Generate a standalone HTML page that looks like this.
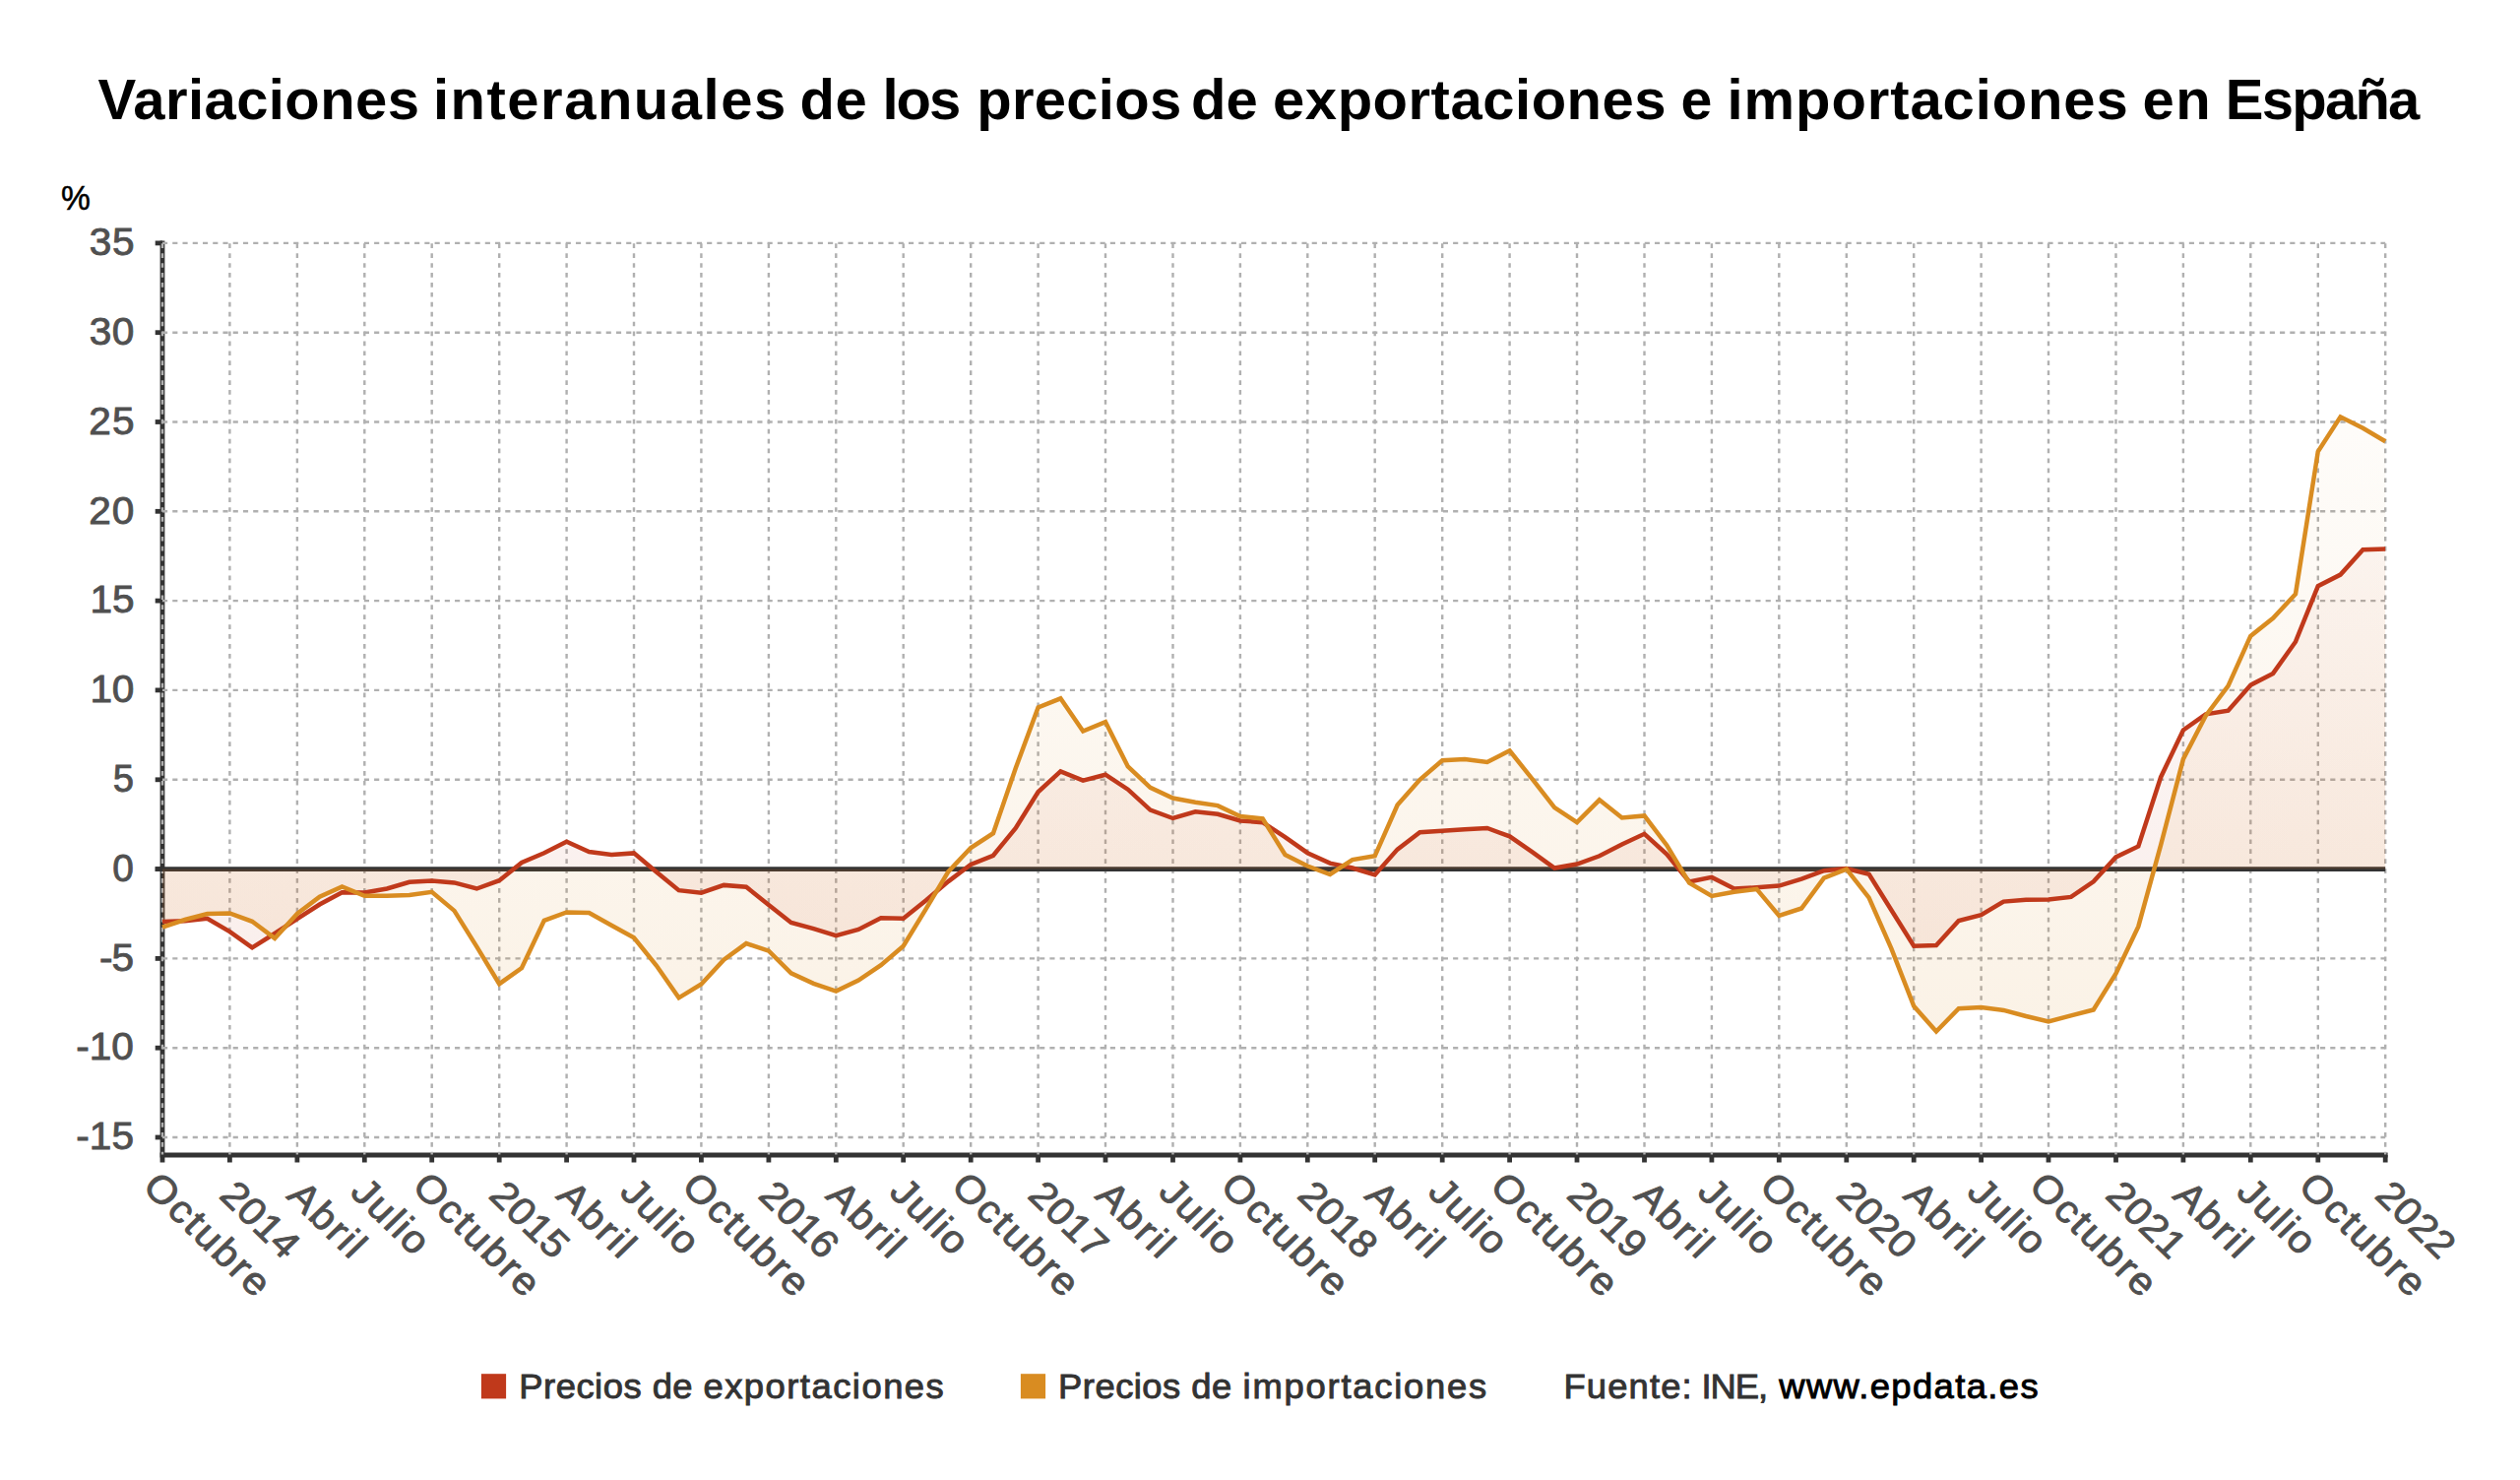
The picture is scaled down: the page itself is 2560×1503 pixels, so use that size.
<!DOCTYPE html>
<html lang="es"><head><meta charset="utf-8"><title>Variaciones interanuales de los precios de exportaciones e importaciones en España</title>
<style>html,body{margin:0;padding:0;background:#fff}body{width:2560px;height:1503px;overflow:hidden}svg{display:block}text{font-family:"Liberation Sans",sans-serif}</style>
</head><body>
<svg width="2560" height="1503" viewBox="0 0 2560 1503">
<defs>
<linearGradient id="gr" gradientUnits="userSpaceOnUse" x1="0" y1="246.9" x2="0" y2="1173.0"><stop offset="0" stop-color="#c0391b" stop-opacity="0.0"/><stop offset="1" stop-color="#c0391b" stop-opacity="0.105"/></linearGradient>
<linearGradient id="go" gradientUnits="userSpaceOnUse" x1="0" y1="246.9" x2="0" y2="1173.0"><stop offset="0" stop-color="#d98c21" stop-opacity="0.0"/><stop offset="1" stop-color="#d98c21" stop-opacity="0.13"/></linearGradient>
</defs>
<rect width="2560" height="1503" fill="#fff"/>
<g stroke="#333" stroke-width="4.8" fill="none">
<path d="M165.0,244.5 V1180.5"/>
<path d="M162.6,1173.0 H2425.6"/>
<path d="M157.7,246.9 H165.0"/>
<path d="M157.7,337.7 H165.0"/>
<path d="M157.7,428.5 H165.0"/>
<path d="M157.7,519.3 H165.0"/>
<path d="M157.7,610.1 H165.0"/>
<path d="M157.7,700.9 H165.0"/>
<path d="M157.7,791.8 H165.0"/>
<path d="M157.7,882.6 H165.0"/>
<path d="M157.7,973.4 H165.0"/>
<path d="M157.7,1064.2 H165.0"/>
<path d="M157.7,1155.0 H165.0"/>
<path d="M233.4,1173.0 V1180.5"/>
<path d="M301.9,1173.0 V1180.5"/>
<path d="M370.3,1173.0 V1180.5"/>
<path d="M438.7,1173.0 V1180.5"/>
<path d="M507.2,1173.0 V1180.5"/>
<path d="M575.6,1173.0 V1180.5"/>
<path d="M644.0,1173.0 V1180.5"/>
<path d="M712.4,1173.0 V1180.5"/>
<path d="M780.9,1173.0 V1180.5"/>
<path d="M849.3,1173.0 V1180.5"/>
<path d="M917.7,1173.0 V1180.5"/>
<path d="M986.2,1173.0 V1180.5"/>
<path d="M1054.6,1173.0 V1180.5"/>
<path d="M1123.0,1173.0 V1180.5"/>
<path d="M1191.5,1173.0 V1180.5"/>
<path d="M1259.9,1173.0 V1180.5"/>
<path d="M1328.3,1173.0 V1180.5"/>
<path d="M1396.7,1173.0 V1180.5"/>
<path d="M1465.2,1173.0 V1180.5"/>
<path d="M1533.6,1173.0 V1180.5"/>
<path d="M1602.0,1173.0 V1180.5"/>
<path d="M1670.5,1173.0 V1180.5"/>
<path d="M1738.9,1173.0 V1180.5"/>
<path d="M1807.3,1173.0 V1180.5"/>
<path d="M1875.8,1173.0 V1180.5"/>
<path d="M1944.2,1173.0 V1180.5"/>
<path d="M2012.6,1173.0 V1180.5"/>
<path d="M2081.0,1173.0 V1180.5"/>
<path d="M2149.5,1173.0 V1180.5"/>
<path d="M2217.9,1173.0 V1180.5"/>
<path d="M2286.3,1173.0 V1180.5"/>
<path d="M2354.8,1173.0 V1180.5"/>
<path d="M2423.2,1173.0 V1180.5"/>
</g>
<g stroke="#b0b0b0" stroke-width="2.4" fill="none">
<g stroke-dasharray="5.15 5.093">
<path d="M165.0,246.9 H2423.2"/>
<path d="M165.0,337.7 H2423.2"/>
<path d="M165.0,428.5 H2423.2"/>
<path d="M165.0,519.3 H2423.2"/>
<path d="M165.0,610.1 H2423.2"/>
<path d="M165.0,700.9 H2423.2"/>
<path d="M165.0,791.8 H2423.2"/>
<path d="M165.0,973.4 H2423.2"/>
<path d="M165.0,1064.2 H2423.2"/>
<path d="M165.0,1155.0 H2423.2"/>
</g><g stroke-dasharray="4.7 5.22">
<path d="M165.0,247.3 V1172.5"/>
<path d="M233.4,247.3 V1172.5"/>
<path d="M301.9,247.3 V1172.5"/>
<path d="M370.3,247.3 V1172.5"/>
<path d="M438.7,247.3 V1172.5"/>
<path d="M507.2,247.3 V1172.5"/>
<path d="M575.6,247.3 V1172.5"/>
<path d="M644.0,247.3 V1172.5"/>
<path d="M712.4,247.3 V1172.5"/>
<path d="M780.9,247.3 V1172.5"/>
<path d="M849.3,247.3 V1172.5"/>
<path d="M917.7,247.3 V1172.5"/>
<path d="M986.2,247.3 V1172.5"/>
<path d="M1054.6,247.3 V1172.5"/>
<path d="M1123.0,247.3 V1172.5"/>
<path d="M1191.5,247.3 V1172.5"/>
<path d="M1259.9,247.3 V1172.5"/>
<path d="M1328.3,247.3 V1172.5"/>
<path d="M1396.7,247.3 V1172.5"/>
<path d="M1465.2,247.3 V1172.5"/>
<path d="M1533.6,247.3 V1172.5"/>
<path d="M1602.0,247.3 V1172.5"/>
<path d="M1670.5,247.3 V1172.5"/>
<path d="M1738.9,247.3 V1172.5"/>
<path d="M1807.3,247.3 V1172.5"/>
<path d="M1875.8,247.3 V1172.5"/>
<path d="M1944.2,247.3 V1172.5"/>
<path d="M2012.6,247.3 V1172.5"/>
<path d="M2081.0,247.3 V1172.5"/>
<path d="M2149.5,247.3 V1172.5"/>
<path d="M2217.9,247.3 V1172.5"/>
<path d="M2286.3,247.3 V1172.5"/>
<path d="M2354.8,247.3 V1172.5"/>
<path d="M2423.2,247.3 V1172.5"/>
</g></g>
<path d="M157.7,882.6 H2423.2" stroke="#333" stroke-width="4.9" fill="none"/>
<path d="M165.0,882.6 L165.0,936.1 L187.8,935.2 L210.6,932.7 L233.4,946.1 L256.2,962.3 L279.1,948.0 L301.9,933.2 L324.7,918.5 L347.5,906.2 L370.3,906.5 L393.1,902.5 L415.9,895.8 L438.7,894.6 L461.5,896.4 L484.3,902.5 L507.2,894.2 L530.0,875.9 L552.8,866.2 L575.6,854.8 L598.4,865.1 L621.2,868.0 L644.0,866.4 L666.8,885.5 L689.6,904.2 L712.4,906.7 L735.3,898.9 L758.1,900.7 L780.9,918.9 L803.7,936.9 L826.5,943.2 L849.3,950.1 L872.1,944.0 L894.9,932.3 L917.7,932.7 L940.5,914.5 L963.4,895.1 L986.2,878.0 L1009.0,868.8 L1031.8,841.0 L1054.6,804.3 L1077.4,783.4 L1100.2,792.7 L1123.0,786.7 L1145.8,801.7 L1168.6,822.6 L1191.5,831.0 L1214.3,824.3 L1237.1,826.8 L1259.9,833.4 L1282.7,835.2 L1305.5,850.1 L1328.3,866.2 L1351.1,876.6 L1373.9,881.5 L1396.7,888.4 L1419.6,862.6 L1442.4,845.2 L1465.2,843.7 L1488.0,842.3 L1510.8,841.0 L1533.6,849.3 L1556.4,865.1 L1579.2,881.5 L1602.0,877.5 L1624.8,869.3 L1647.7,857.5 L1670.5,846.8 L1693.3,867.5 L1716.1,895.5 L1738.9,890.9 L1761.7,902.5 L1784.5,901.3 L1807.3,899.6 L1830.1,892.6 L1852.9,884.2 L1875.8,882.0 L1898.6,887.7 L1921.4,924.2 L1944.2,960.8 L1967.0,960.1 L1989.8,935.1 L2012.6,929.2 L2035.4,915.6 L2058.2,913.8 L2081.0,913.4 L2103.9,910.9 L2126.7,895.3 L2149.5,870.4 L2172.3,859.5 L2195.1,789.2 L2217.9,741.5 L2240.7,725.3 L2263.5,721.7 L2286.3,695.7 L2309.1,683.9 L2332.0,651.7 L2354.8,595.2 L2377.6,583.6 L2400.4,558.2 L2423.2,557.5 L2423.2,882.6 Z" fill="url(#gr)"/>
<path d="M165.0,882.6 L165.0,941.6 L187.8,934.0 L210.6,928.0 L233.4,927.4 L256.2,935.8 L279.1,952.9 L301.9,928.0 L324.7,910.7 L347.5,900.4 L370.3,909.8 L393.1,909.8 L415.9,909.1 L438.7,905.8 L461.5,924.9 L484.3,961.4 L507.2,999.2 L530.0,983.0 L552.8,934.9 L575.6,926.5 L598.4,927.1 L621.2,939.8 L644.0,952.3 L666.8,980.5 L689.6,1013.3 L712.4,999.5 L735.3,974.7 L758.1,958.1 L780.9,965.6 L803.7,988.3 L826.5,998.8 L849.3,1006.6 L872.1,995.5 L894.9,980.1 L917.7,960.7 L940.5,923.3 L963.4,885.1 L986.2,861.0 L1009.0,846.2 L1031.8,780.1 L1054.6,718.4 L1077.4,709.3 L1100.2,742.5 L1123.0,733.1 L1145.8,778.5 L1168.6,799.8 L1191.5,810.5 L1214.3,814.8 L1237.1,818.1 L1259.9,829.0 L1282.7,831.4 L1305.5,868.0 L1328.3,879.5 L1351.1,888.0 L1373.9,873.1 L1396.7,869.3 L1419.6,817.6 L1442.4,791.8 L1465.2,772.3 L1488.0,770.9 L1510.8,774.0 L1533.6,762.3 L1556.4,790.9 L1579.2,820.1 L1602.0,835.2 L1624.8,812.3 L1647.7,830.4 L1670.5,828.4 L1693.3,858.4 L1716.1,896.7 L1738.9,910.0 L1761.7,905.8 L1784.5,902.9 L1807.3,930.0 L1830.1,922.5 L1852.9,891.7 L1875.8,882.6 L1898.6,911.6 L1921.4,963.4 L1944.2,1021.7 L1967.0,1047.5 L1989.8,1024.2 L2012.6,1023.0 L2035.4,1025.9 L2058.2,1032.0 L2081.0,1037.5 L2103.9,1031.3 L2126.7,1025.5 L2149.5,988.6 L2172.3,940.9 L2195.1,858.1 L2217.9,770.9 L2240.7,726.9 L2263.5,696.6 L2286.3,645.9 L2309.1,627.8 L2332.0,603.2 L2354.8,458.5 L2377.6,423.3 L2400.4,434.7 L2423.2,448.3 L2423.2,882.6 Z" fill="url(#go)"/>
<polyline points="165.0,936.1 187.8,935.2 210.6,932.7 233.4,946.1 256.2,962.3 279.1,948.0 301.9,933.2 324.7,918.5 347.5,906.2 370.3,906.5 393.1,902.5 415.9,895.8 438.7,894.6 461.5,896.4 484.3,902.5 507.2,894.2 530.0,875.9 552.8,866.2 575.6,854.8 598.4,865.1 621.2,868.0 644.0,866.4 666.8,885.5 689.6,904.2 712.4,906.7 735.3,898.9 758.1,900.7 780.9,918.9 803.7,936.9 826.5,943.2 849.3,950.1 872.1,944.0 894.9,932.3 917.7,932.7 940.5,914.5 963.4,895.1 986.2,878.0 1009.0,868.8 1031.8,841.0 1054.6,804.3 1077.4,783.4 1100.2,792.7 1123.0,786.7 1145.8,801.7 1168.6,822.6 1191.5,831.0 1214.3,824.3 1237.1,826.8 1259.9,833.4 1282.7,835.2 1305.5,850.1 1328.3,866.2 1351.1,876.6 1373.9,881.5 1396.7,888.4 1419.6,862.6 1442.4,845.2 1465.2,843.7 1488.0,842.3 1510.8,841.0 1533.6,849.3 1556.4,865.1 1579.2,881.5 1602.0,877.5 1624.8,869.3 1647.7,857.5 1670.5,846.8 1693.3,867.5 1716.1,895.5 1738.9,890.9 1761.7,902.5 1784.5,901.3 1807.3,899.6 1830.1,892.6 1852.9,884.2 1875.8,882.0 1898.6,887.7 1921.4,924.2 1944.2,960.8 1967.0,960.1 1989.8,935.1 2012.6,929.2 2035.4,915.6 2058.2,913.8 2081.0,913.4 2103.9,910.9 2126.7,895.3 2149.5,870.4 2172.3,859.5 2195.1,789.2 2217.9,741.5 2240.7,725.3 2263.5,721.7 2286.3,695.7 2309.1,683.9 2332.0,651.7 2354.8,595.2 2377.6,583.6 2400.4,558.2 2423.2,557.5" fill="none" stroke="#c0391b" stroke-width="4.5" stroke-linejoin="miter" stroke-miterlimit="3"/>
<polyline points="165.0,941.6 187.8,934.0 210.6,928.0 233.4,927.4 256.2,935.8 279.1,952.9 301.9,928.0 324.7,910.7 347.5,900.4 370.3,909.8 393.1,909.8 415.9,909.1 438.7,905.8 461.5,924.9 484.3,961.4 507.2,999.2 530.0,983.0 552.8,934.9 575.6,926.5 598.4,927.1 621.2,939.8 644.0,952.3 666.8,980.5 689.6,1013.3 712.4,999.5 735.3,974.7 758.1,958.1 780.9,965.6 803.7,988.3 826.5,998.8 849.3,1006.6 872.1,995.5 894.9,980.1 917.7,960.7 940.5,923.3 963.4,885.1 986.2,861.0 1009.0,846.2 1031.8,780.1 1054.6,718.4 1077.4,709.3 1100.2,742.5 1123.0,733.1 1145.8,778.5 1168.6,799.8 1191.5,810.5 1214.3,814.8 1237.1,818.1 1259.9,829.0 1282.7,831.4 1305.5,868.0 1328.3,879.5 1351.1,888.0 1373.9,873.1 1396.7,869.3 1419.6,817.6 1442.4,791.8 1465.2,772.3 1488.0,770.9 1510.8,774.0 1533.6,762.3 1556.4,790.9 1579.2,820.1 1602.0,835.2 1624.8,812.3 1647.7,830.4 1670.5,828.4 1693.3,858.4 1716.1,896.7 1738.9,910.0 1761.7,905.8 1784.5,902.9 1807.3,930.0 1830.1,922.5 1852.9,891.7 1875.8,882.6 1898.6,911.6 1921.4,963.4 1944.2,1021.7 1967.0,1047.5 1989.8,1024.2 2012.6,1023.0 2035.4,1025.9 2058.2,1032.0 2081.0,1037.5 2103.9,1031.3 2126.7,1025.5 2149.5,988.6 2172.3,940.9 2195.1,858.1 2217.9,770.9 2240.7,726.9 2263.5,696.6 2286.3,645.9 2309.1,627.8 2332.0,603.2 2354.8,458.5 2377.6,423.3 2400.4,434.7 2423.2,448.3" fill="none" stroke="#d98c21" stroke-width="4.5" stroke-linejoin="miter" stroke-miterlimit="3"/>
<text transform="translate(99.40,120.50) scale(1.0,1)" font-size="58" fill="#000" font-weight="bold" letter-spacing="0.412">Variaciones</text>
<text transform="translate(439.88,120.50) scale(1.0,1)" font-size="58" fill="#000" font-weight="bold" letter-spacing="1.517">interanuales</text>
<text transform="translate(812.49,120.50) scale(1.0,1)" font-size="58" fill="#000" font-weight="bold" letter-spacing="0.671">de</text>
<text transform="translate(896.38,120.50) scale(1.0,1)" font-size="58" fill="#000" font-weight="bold" letter-spacing="-1.912">los</text>
<text transform="translate(992.27,120.50) scale(1.0,1)" font-size="58" fill="#000" font-weight="bold" letter-spacing="0.26">precios</text>
<text transform="translate(1209.89,120.50) scale(1.0,1)" font-size="58" fill="#000" font-weight="bold" letter-spacing="0.071">de</text>
<text transform="translate(1293.09,120.50) scale(1.0,1)" font-size="58" fill="#000" font-weight="bold" letter-spacing="0.517">exportaciones</text>
<text transform="translate(1707.51,120.50) scale(0.9862,1)" font-size="58" fill="#000" font-weight="bold">e</text>
<text transform="translate(1754.58,120.50) scale(1.0,1)" font-size="58" fill="#000" font-weight="bold" letter-spacing="0.896">importaciones</text>
<text transform="translate(2176.59,120.50) scale(1.0,1)" font-size="58" fill="#000" font-weight="bold" letter-spacing="1.431">en</text>
<text transform="translate(2260.78,120.50) scale(1.0,1)" font-size="58" fill="#000" font-weight="bold" letter-spacing="-1.751">España</text>
<text transform="translate(61.90,213.40) scale(0.9325,1)" font-size="36" fill="#000" stroke="#000" stroke-width="0.5">%</text>
<text transform="translate(90.78,259.10) scale(1.04,1)" font-size="39" fill="#505050" letter-spacing="0.573" stroke="#505050" stroke-width="0.9">35</text>
<text transform="translate(90.78,349.91) scale(1.04,1)" font-size="39" fill="#505050" letter-spacing="0.349" stroke="#505050" stroke-width="0.9">30</text>
<text transform="translate(90.15,440.72) scale(1.04,1)" font-size="39" fill="#505050" letter-spacing="1.183" stroke="#505050" stroke-width="0.9">25</text>
<text transform="translate(90.15,531.53) scale(1.04,1)" font-size="39" fill="#505050" letter-spacing="0.958" stroke="#505050" stroke-width="0.9">20</text>
<text transform="translate(91.42,622.34) scale(1.04,1)" font-size="39" fill="#505050" letter-spacing="-0.035" stroke="#505050" stroke-width="0.9">15</text>
<text transform="translate(91.42,713.15) scale(1.04,1)" font-size="39" fill="#505050" letter-spacing="-0.26" stroke="#505050" stroke-width="0.9">10</text>
<text transform="translate(114.76,803.96) scale(0.9793,1)" font-size="39" fill="#505050" stroke="#505050" stroke-width="0.9">5</text>
<text transform="translate(114.34,894.77) scale(0.9949,1)" font-size="39" fill="#505050" stroke="#505050" stroke-width="0.9">0</text>
<text transform="translate(100.98,985.58) scale(1.04,1)" font-size="39" fill="#505050" letter-spacing="-0.916" stroke="#505050" stroke-width="0.9">-5</text>
<text transform="translate(77.28,1076.39) scale(1.04,1)" font-size="39" fill="#505050" letter-spacing="-0.021" stroke="#505050" stroke-width="0.9">-10</text>
<text transform="translate(77.28,1167.20) scale(1.04,1)" font-size="39" fill="#505050" letter-spacing="0.091" stroke="#505050" stroke-width="0.9">-15</text>
<text transform="translate(527.21,1419.90) scale(1.04,1)" font-size="35" fill="#333" letter-spacing="0.498" stroke="#333" stroke-width="0.9">Precios</text>
<text transform="translate(662.81,1419.90) scale(1.04,1)" font-size="35" fill="#333" letter-spacing="0.312" stroke="#333" stroke-width="0.9">de</text>
<text transform="translate(714.41,1419.90) scale(1.04,1)" font-size="35" fill="#333" letter-spacing="1.43" stroke="#333" stroke-width="0.9">exportaciones</text>
<text transform="translate(1075.11,1419.90) scale(1.04,1)" font-size="35" fill="#333" letter-spacing="0.45" stroke="#333" stroke-width="0.9">Precios</text>
<text transform="translate(1210.21,1419.90) scale(1.04,1)" font-size="35" fill="#333" letter-spacing="0.505" stroke="#333" stroke-width="0.9">de</text>
<text transform="translate(1262.58,1419.90) scale(1.04,1)" font-size="35" fill="#333" letter-spacing="1.7" stroke="#333" stroke-width="0.9">importaciones</text>
<text transform="translate(1588.51,1419.90) scale(1.04,1)" font-size="35" fill="#333" letter-spacing="1.089" stroke="#333" stroke-width="0.9">Fuente:</text>
<text transform="translate(1728.41,1419.90) scale(1.04,1)" font-size="35" fill="#333" letter-spacing="-0.971" stroke="#333" stroke-width="0.9">INE,</text>
<text transform="translate(1807.22,1419.90) scale(1.04,1)" font-size="35" fill="#000" letter-spacing="1.339" stroke="#000" stroke-width="0.9">www.epdata.es</text>
<text transform="translate(143.48,1206.75) scale(1.03,1) rotate(45) scale(1.04,1)" font-size="39" fill="#505050" letter-spacing="2.3" stroke="#505050" stroke-width="0.9">Octubre</text>
<text transform="translate(221.55,1215.62) scale(1.03,1) rotate(45) scale(1.04,1)" font-size="39" fill="#505050" letter-spacing="0.39" stroke="#505050" stroke-width="0.9">2014</text>
<text transform="translate(290.02,1215.85) scale(1.03,1) rotate(45) scale(1.04,1)" font-size="39" fill="#505050" letter-spacing="2.22" stroke="#505050" stroke-width="0.9">Abril</text>
<text transform="translate(354.45,1212.30) scale(1.03,1) rotate(45) scale(1.04,1)" font-size="39" fill="#505050" letter-spacing="1.77" stroke="#505050" stroke-width="0.9">Julio</text>
<text transform="translate(417.20,1206.75) scale(1.03,1) rotate(45) scale(1.04,1)" font-size="39" fill="#505050" letter-spacing="2.3" stroke="#505050" stroke-width="0.9">Octubre</text>
<text transform="translate(495.27,1215.62) scale(1.03,1) rotate(45) scale(1.04,1)" font-size="39" fill="#505050" letter-spacing="0.39" stroke="#505050" stroke-width="0.9">2015</text>
<text transform="translate(563.74,1215.85) scale(1.03,1) rotate(45) scale(1.04,1)" font-size="39" fill="#505050" letter-spacing="2.22" stroke="#505050" stroke-width="0.9">Abril</text>
<text transform="translate(628.17,1212.30) scale(1.03,1) rotate(45) scale(1.04,1)" font-size="39" fill="#505050" letter-spacing="1.77" stroke="#505050" stroke-width="0.9">Julio</text>
<text transform="translate(690.92,1206.75) scale(1.03,1) rotate(45) scale(1.04,1)" font-size="39" fill="#505050" letter-spacing="2.3" stroke="#505050" stroke-width="0.9">Octubre</text>
<text transform="translate(768.99,1215.62) scale(1.03,1) rotate(45) scale(1.04,1)" font-size="39" fill="#505050" letter-spacing="0.39" stroke="#505050" stroke-width="0.9">2016</text>
<text transform="translate(837.46,1215.85) scale(1.03,1) rotate(45) scale(1.04,1)" font-size="39" fill="#505050" letter-spacing="2.22" stroke="#505050" stroke-width="0.9">Abril</text>
<text transform="translate(901.89,1212.30) scale(1.03,1) rotate(45) scale(1.04,1)" font-size="39" fill="#505050" letter-spacing="1.77" stroke="#505050" stroke-width="0.9">Julio</text>
<text transform="translate(964.64,1206.75) scale(1.03,1) rotate(45) scale(1.04,1)" font-size="39" fill="#505050" letter-spacing="2.3" stroke="#505050" stroke-width="0.9">Octubre</text>
<text transform="translate(1042.71,1215.62) scale(1.03,1) rotate(45) scale(1.04,1)" font-size="39" fill="#505050" letter-spacing="0.39" stroke="#505050" stroke-width="0.9">2017</text>
<text transform="translate(1111.18,1215.85) scale(1.03,1) rotate(45) scale(1.04,1)" font-size="39" fill="#505050" letter-spacing="2.22" stroke="#505050" stroke-width="0.9">Abril</text>
<text transform="translate(1175.61,1212.30) scale(1.03,1) rotate(45) scale(1.04,1)" font-size="39" fill="#505050" letter-spacing="1.77" stroke="#505050" stroke-width="0.9">Julio</text>
<text transform="translate(1238.36,1206.75) scale(1.03,1) rotate(45) scale(1.04,1)" font-size="39" fill="#505050" letter-spacing="2.3" stroke="#505050" stroke-width="0.9">Octubre</text>
<text transform="translate(1316.44,1215.62) scale(1.03,1) rotate(45) scale(1.04,1)" font-size="39" fill="#505050" letter-spacing="0.39" stroke="#505050" stroke-width="0.9">2018</text>
<text transform="translate(1384.91,1215.85) scale(1.03,1) rotate(45) scale(1.04,1)" font-size="39" fill="#505050" letter-spacing="2.22" stroke="#505050" stroke-width="0.9">Abril</text>
<text transform="translate(1449.34,1212.30) scale(1.03,1) rotate(45) scale(1.04,1)" font-size="39" fill="#505050" letter-spacing="1.77" stroke="#505050" stroke-width="0.9">Julio</text>
<text transform="translate(1512.09,1206.75) scale(1.03,1) rotate(45) scale(1.04,1)" font-size="39" fill="#505050" letter-spacing="2.3" stroke="#505050" stroke-width="0.9">Octubre</text>
<text transform="translate(1590.16,1215.62) scale(1.03,1) rotate(45) scale(1.04,1)" font-size="39" fill="#505050" letter-spacing="0.39" stroke="#505050" stroke-width="0.9">2019</text>
<text transform="translate(1658.63,1215.85) scale(1.03,1) rotate(45) scale(1.04,1)" font-size="39" fill="#505050" letter-spacing="2.22" stroke="#505050" stroke-width="0.9">Abril</text>
<text transform="translate(1723.06,1212.30) scale(1.03,1) rotate(45) scale(1.04,1)" font-size="39" fill="#505050" letter-spacing="1.77" stroke="#505050" stroke-width="0.9">Julio</text>
<text transform="translate(1785.81,1206.75) scale(1.03,1) rotate(45) scale(1.04,1)" font-size="39" fill="#505050" letter-spacing="2.3" stroke="#505050" stroke-width="0.9">Octubre</text>
<text transform="translate(1863.88,1215.62) scale(1.03,1) rotate(45) scale(1.04,1)" font-size="39" fill="#505050" letter-spacing="0.39" stroke="#505050" stroke-width="0.9">2020</text>
<text transform="translate(1932.35,1215.85) scale(1.03,1) rotate(45) scale(1.04,1)" font-size="39" fill="#505050" letter-spacing="2.22" stroke="#505050" stroke-width="0.9">Abril</text>
<text transform="translate(1996.78,1212.30) scale(1.03,1) rotate(45) scale(1.04,1)" font-size="39" fill="#505050" letter-spacing="1.77" stroke="#505050" stroke-width="0.9">Julio</text>
<text transform="translate(2059.53,1206.75) scale(1.03,1) rotate(45) scale(1.04,1)" font-size="39" fill="#505050" letter-spacing="2.3" stroke="#505050" stroke-width="0.9">Octubre</text>
<text transform="translate(2137.60,1215.62) scale(1.03,1) rotate(45) scale(1.04,1)" font-size="39" fill="#505050" letter-spacing="0.39" stroke="#505050" stroke-width="0.9">2021</text>
<text transform="translate(2206.07,1215.85) scale(1.03,1) rotate(45) scale(1.04,1)" font-size="39" fill="#505050" letter-spacing="2.22" stroke="#505050" stroke-width="0.9">Abril</text>
<text transform="translate(2270.50,1212.30) scale(1.03,1) rotate(45) scale(1.04,1)" font-size="39" fill="#505050" letter-spacing="1.77" stroke="#505050" stroke-width="0.9">Julio</text>
<text transform="translate(2333.25,1206.75) scale(1.03,1) rotate(45) scale(1.04,1)" font-size="39" fill="#505050" letter-spacing="2.3" stroke="#505050" stroke-width="0.9">Octubre</text>
<text transform="translate(2411.32,1215.62) scale(1.03,1) rotate(45) scale(1.04,1)" font-size="39" fill="#505050" letter-spacing="0.39" stroke="#505050" stroke-width="0.9">2022</text>
<rect x="488.9" y="1395.2" width="25.2" height="25.2" fill="#c0391b"/>
<rect x="1036.9" y="1395.2" width="25.2" height="25.2" fill="#d98c21"/>
</svg>
</body></html>
